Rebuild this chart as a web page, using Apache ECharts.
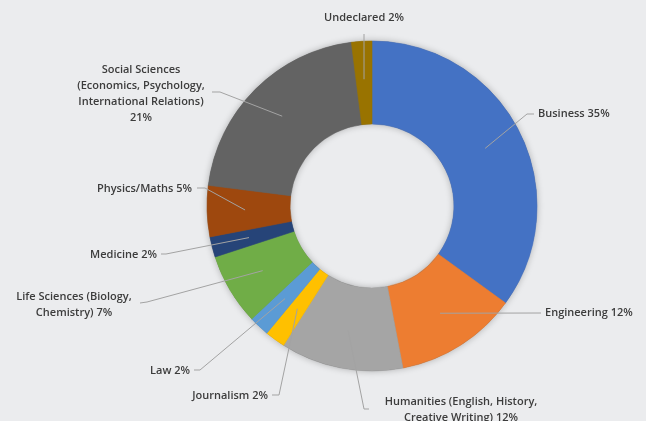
<!DOCTYPE html>
<html><head><meta charset="utf-8">
<script src="https://cdn.jsdelivr.net/npm/echarts@6/dist/echarts.min.js"></script>
<style>html,body{margin:0;padding:0;background:#ebecee}#c{width:646px;height:421px}</style>
</head><body><div id="c"></div>
<script>
// ---- data ----
const categories = [
  'Business',
  'Engineering',
  'Humanities (English, History,\nCreative Writing)',
  'Journalism',
  'Law',
  'Life Sciences (Biology,\nChemistry)',
  'Medicine',
  'Physics/Maths',
  'Social Sciences\n(Economics, Psychology,\nInternational Relations)',
  'Undeclared'
];
const shares = [35, 12, 12, 2, 2, 7, 2, 5, 21, 2];

// ---- style / layout ----
const colors = ['#4472c4','#ed7d31','#a5a5a5','#ffc000','#5b9bd5','#70ad47','#264478','#9e480e','#636363','#997300'];
const labelPlace = [
  {x:538, y:114, align:'left',   sep:' ',  bend:[527,114], end:[534,114]},
  {x:545, y:313, align:'left',   sep:' ',  bend:null,      end:[541,313]},
  {x:461, y:410, align:'center', sep:' ',  bend:[364,409], end:[369,409]},
  {x:268, y:396, align:'right',  sep:' ',  bend:[279,395], end:[272,395]},
  {x:190, y:371, align:'right',  sep:' ',  bend:[200,370], end:[194,370]},
  {x:74,  y:305, align:'center', sep:' ',  bend:[147,302], end:[140,303]},
  {x:157, y:255, align:'right',  sep:' ',  bend:[166,254], end:[161,254]},
  {x:192, y:189, align:'right',  sep:' ',  bend:[205,188], end:[197,188]},
  {x:141, y:94,  align:'center', sep:'\n', bend:[220,92],  end:[212,92]},
  {x:364, y:18,  align:'center', sep:' ',  bend:null,      end:[364,34]}
];
const CENTER = [372, 206];

const chart = echarts.init(document.getElementById('c'), null, {renderer:'canvas'});
const data = categories.map((n, i) => ({
  name: n, value: shares[i],
  itemStyle: {color: colors[i], borderColor: colors[i], borderWidth: 0.6}
}));
const total = shares.reduce((a, b) => a + b, 0);

chart.setOption({
  backgroundColor: '#ebecee',
  animation: false,
  series: [
    { // soft shadow ring underneath
      type: 'pie', silent: true, z: 1,
      center: CENTER, radius: [82, 165],
      label: {show: false}, labelLine: {show: false},
      itemStyle: {color: '#6a6a6a', shadowBlur: 7, shadowColor: 'rgba(0,0,0,0.28)'},
      emphasis: {disabled: true},
      data: [{value: total, name: ''}]
    },
    {
      type: 'pie', silent: true, z: 2,
      center: CENTER, radius: [82, 165],
      startAngle: 90, clockwise: true,
      label: {show: false}, labelLine: {show: false},
      emphasis: {disabled: true},
      data: data
    },
    { // label carrier: anchors leader lines at mid-ring
      type: 'pie', silent: true, z: 3,
      center: CENTER, radius: [0, 127],
      startAngle: 90, clockwise: true,
      avoidLabelOverlap: false,
      itemStyle: {color: 'rgba(0,0,0,0)'},
      emphasis: {disabled: true},
      label: {
        show: true, position: 'outside',
        fontFamily: 'Open Sans', fontSize: 11, fontWeight: 600, color: '#3c3c3c', lineHeight: 16,
        formatter: p => p.name + labelPlace[p.dataIndex].sep + p.value + '%'
      },
      labelLine: {show: true, length: 5, length2: 5, lineStyle: {color: '#a3a3a3', width: 1}},
      labelLayout: function (params) {
        const c = labelPlace[params.dataIndex];
        const pts = params.labelLinePoints;
        const start = pts ? pts[0] : c.end;
        const bend = c.bend || c.end;
        return {
          x: c.x, y: c.y, align: c.align, verticalAlign: 'middle',
          labelLinePoints: [start, bend, c.end]
        };
      },
      data: categories.map((n, i) => ({name: n, value: shares[i]}))
    }
  ]
});
</script></body></html>
